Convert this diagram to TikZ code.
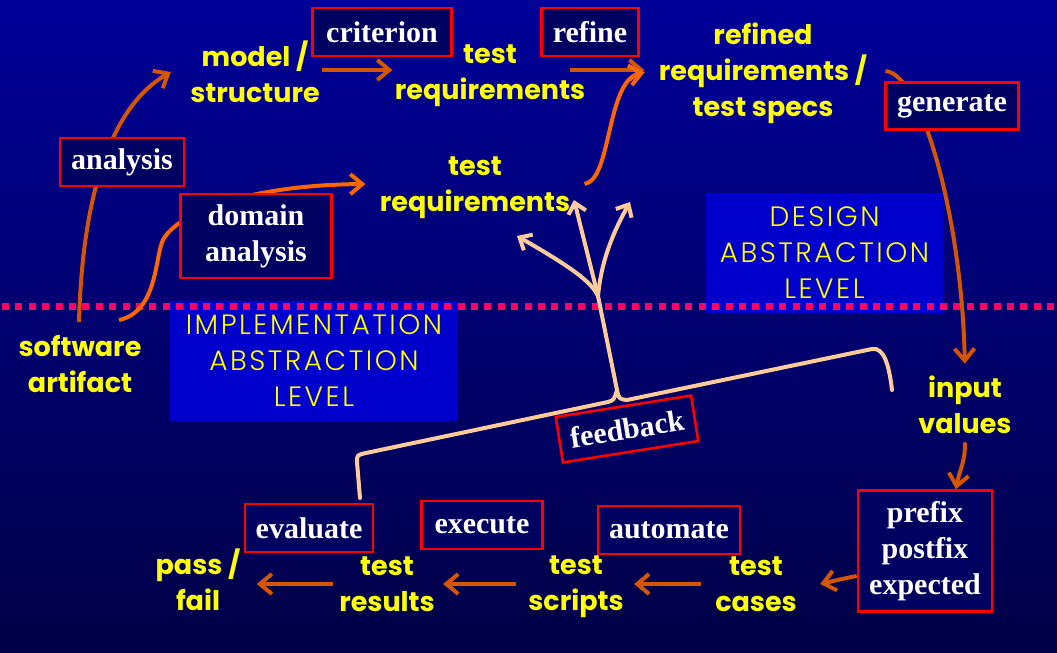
\documentclass[tikz,border=0pt]{standalone}
\usepackage{fontspec}
\setmainfont{Liberation Serif}
\newfontfamily\comicfont{Poppins}
\newfontfamily\handfont{Poppins}[UprightFont=* Light,LetterSpace=9]
\usetikzlibrary{arrows.meta,calc,positioning}
\definecolor{bgtop}{RGB}{0,0,152}
\definecolor{bgbottom}{RGB}{0,0,70}
\definecolor{boxfill}{RGB}{0,0,96}
\definecolor{levelblue}{RGB}{0,0,204}
\definecolor{ordark}{RGB}{212,86,0}
\definecolor{orbright}{RGB}{255,102,0}
\definecolor{peach}{RGB}{255,204,153}
\definecolor{dotpink}{RGB}{255,0,102}
\definecolor{textyellow}{RGB}{255,255,0}

\begin{document}
\begin{tikzpicture}[
  x=0.5pt,
  y=-0.5pt,
  phase/.style={
    font=\comicfont\bfseries\fontsize{13.5}{18}\selectfont,
    text=textyellow,
    align=center,
    inner sep=1pt
  },
  action/.style={
    draw=red,
    line width=1.3pt,
    fill=boxfill,
    text=white,
    font=\bfseries\fontsize{15}{18}\selectfont,
    align=center,
    inner sep=0pt
  },
  level/.style={
    fill=levelblue,
    text=textyellow,
    font=\handfont\fontsize{14}{18}\selectfont,
    align=center,
    inner sep=0pt
  },
  flow/.style={line width=2pt,-{Straight Barb[length=6pt,width=10pt]}},
  fb/.style={peach,line width=2pt,line cap=round,line join=round},
  fbtip/.style={fb,-{Straight Barb[length=5pt,width=9pt]}}
]

% Background
\useasboundingbox (0,0) rectangle (1057,653);
\shade[top color=bgtop,bottom color=bgbottom] (0,0) rectangle (1057,653);

% Abstraction levels
\node[level,minimum width=118.5pt,minimum height=60pt] (design) at (824.5,253)
  {DESIGN\\ABSTRACTION\\LEVEL};
\node[level,minimum width=144pt,minimum height=60pt] (impl) at (314,361)
  {IMPLEMENTATION\\ABSTRACTION\\LEVEL};

% Level border
\draw[dotpink,line width=3.5pt,dash pattern=on 3.5pt off 3.2pt] (2,306) -- (1057,306);

% Artifacts
\node[phase] (model) at (255,72) {model /\\structure};
\node[phase] (treqA) at (490,76) {test\\requirements};
\node[phase] (refined) at (763,73) {refined\\requirements /\\test specs};
\node[phase] (treqB) at (475,188) {test\\requirements};
\node[phase] (artifact) at (80,364) {software\\artifact};
\node[phase] (input) at (965,405) {input\\values};
\node[phase] (verdict) at (198,580) {pass /\\fail};
\node[phase] (results) at (387,584) {test\\results};
\node[phase] (scripts) at (576,587) {test\\scripts};
\node[phase] (cases) at (756,584) {test\\cases};

% Free ends
\coordinate (artA) at (79,322);
\coordinate (artB) at (119,320);

% Design side arrows
\draw[flow,ordark] (artA) .. controls (82,210) and (105,110)
  .. ([xshift=-8.5pt]model.west);
\draw[flow,orbright] (artB) .. controls (158,312) and (155,255) .. (163,240)
  .. controls (178,212) and (250,185) .. ([xshift=-6pt,yshift=2pt]treqB.west);
\draw[flow,ordark] ([yshift=1pt]model.east) -- ([yshift=1pt]model.east -| treqA.west);
\draw[flow,ordark,shorten >=6pt] ([xshift=-9pt,yshift=1pt]treqA.east |- model.east)
  -- ([yshift=1pt]model.east -| refined.west);
\draw[flow,orbright,shorten >=6pt] ([xshift=6pt,yshift=2pt]treqB.east) .. controls (612,180) and (606,80)
  .. ([yshift=1pt]model.east -| refined.west);
\draw[flow,ordark,shorten >=5pt] ([xshift=8pt,yshift=1pt]refined.east) .. controls (922,74) and (962,220)
  .. (input.north);

% Implementation side arrows
\draw[flow,ordark] ([xshift=-6pt]cases.west) -- ([xshift=4pt]cases.west -| scripts.east);
\draw[flow,ordark] ([xshift=-5pt]cases.west -| scripts.west) -- ([xshift=3pt]cases.west -| results.east);
\draw[flow,ordark] ([xshift=-2pt]cases.west -| results.west) -- ([xshift=7pt]cases.west -| verdict.east);

% Feedback tree
\coordinate (fbL) at (360,498);
\coordinate (fbR) at (892,390);
\coordinate (fbJ) at (617,390);
\coordinate (fbS) at (598,296);
\coordinate (fbTipA) at (517,236);
\coordinate (fbTipB) at (574,200);
\coordinate (fbTipC) at (630,202);
\draw[fb] (fbL) -- (357,462) .. controls (357,455) .. (366,453)
  -- (608,402) .. controls (614,400) .. (fbJ);
\draw[fb] (fbJ) .. controls (619,399) .. (627,400) -- (872,349)
  .. controls (884,347) and (889,365) .. (fbR);
\draw[fb] (fbJ) -- (fbS);
\draw[fbtip] (fbS) .. controls (592,284) and (580,272) .. (fbTipA);
\draw[fbtip] (fbS) -- (fbTipB);
\draw[fbtip] (fbS) .. controls (601,265) and (610,238) .. (fbTipC);

% Activities
\node[action,minimum width=69.5pt,minimum height=24pt] (criterion) at (382,32) {criterion};
\node[action,minimum width=48.5pt,minimum height=24pt] (refine) at (590,32) {refine};
\node[action,minimum width=62pt,minimum height=24pt] (analysis) at (122,162) {analysis};
\node[action,minimum width=75.5pt,minimum height=42pt] (domain) at (256,236) {domain\\analysis};
\node[action,minimum width=66.5pt,minimum height=23.5pt] (generate) at (952,106) {generate};
\node[action,minimum width=64pt,minimum height=24pt] (evaluate) at (309,528) {evaluate};
\node[action,minimum width=60.5pt,minimum height=24pt] (execute) at (482,525) {execute};
\node[action,minimum width=71pt,minimum height=24pt] (automate) at (669,530) {automate};
\node[action,minimum width=67pt,minimum height=60.5pt] (oracle) at (925,551) {prefix\\postfix\\expected};
\node[action,minimum width=68.5pt,minimum height=23pt,rotate=9] (feedback) at (627,429) {feedback};

% Oracle arrows
\draw[flow,ordark] ([yshift=-3pt]input.south) .. controls +(0,22) and +(4,-22)
  .. ([xshift=15.5pt]oracle.north);
\draw[flow,ordark] ([yshift=-12.5pt]oracle.west) .. controls (842,579)
  .. ([xshift=10.5pt]cases.east);

\end{tikzpicture}
\end{document}
